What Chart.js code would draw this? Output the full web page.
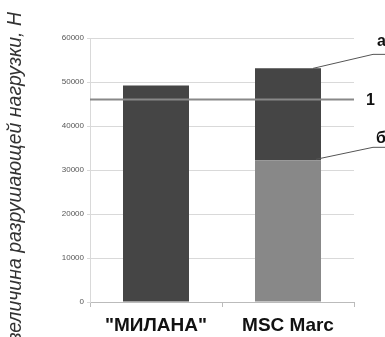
<!DOCTYPE html>
<html>
<head>
<meta charset="utf-8">
<script src="https://cdn.jsdelivr.net/npm/chart.js@4/dist/chart.umd.min.js"></script>
<style>
  html, body { margin: 0; padding: 0; background: #fff; }
  #wrap { width: 385px; height: 337px; position: relative; }
</style>
</head>
<body>
<div id="wrap"><canvas id="c"></canvas></div>
<script>
'use strict';

/* data */
const categories  = ['"МИЛАНА"', 'MSC Marc'];
const lowerPart   = [49200, 32200];   // б
const upperPart   = [0, 20900];       // а (on top of б)
const limitValue  = 46000;            // line 1
const yTicks      = [0, 10000, 20000, 30000, 40000, 50000, 60000];
const yTitle      = 'величина разрушающей нагрузки, Н';

const DARK  = '#454545';
const LIGHT = '#888888';
const GRID  = '#d9d9d9';
const FONT  = '"Liberation Sans", Arial, sans-serif';

/* line 1, leaders, labels а/б/1, y title */
const annotations = {
  id: 'annotations',
  afterDatasetsDraw(chart) {
    const { ctx, chartArea, scales } = chart;
    const y = scales.y;

    // line 1
    const ly = y.getPixelForValue(limitValue);
    ctx.save();
    ctx.strokeStyle = '#888';
    ctx.lineWidth = 2;
    ctx.beginPath();
    ctx.moveTo(chartArea.left, ly);
    ctx.lineTo(chartArea.right, ly);
    ctx.stroke();

    // leaders
    const bar = chart.getDatasetMeta(1).data[1];
    const topY = y.getPixelForValue(lowerPart[1] + upperPart[1]);
    const midY = y.getPixelForValue(lowerPart[1]);
    const bx   = bar.x + bar.width / 2 - 8;
    ctx.strokeStyle = '#555';
    ctx.lineWidth = 1;
    ctx.beginPath();
    ctx.moveTo(bx, topY);
    ctx.lineTo(chartArea.right + 19, topY - 14);
    ctx.lineTo(385, topY - 14);
    ctx.moveTo(bx + 3, midY - 1);
    ctx.lineTo(chartArea.right + 19, midY - 13);
    ctx.lineTo(385, midY - 13);
    ctx.stroke();

    ctx.fillStyle = '#111';
    ctx.font = 'bold 16px ' + FONT;
    ctx.textBaseline = 'middle';
    ctx.textAlign = 'left';
    ctx.fillText('а', chartArea.right + 23, topY - 27);
    ctx.fillText('1', chartArea.right + 12, ly + 1);
    ctx.fillText('б', chartArea.right + 22, midY - 22);

    // y title
    ctx.translate(16, 12);
    ctx.rotate(-Math.PI / 2);
    ctx.font = 'italic 19.5px ' + FONT;
    ctx.fillStyle = '#333';
    ctx.textAlign = 'right';
    ctx.fillText(yTitle, 0, 0);
    ctx.restore();
  }
};

new Chart(document.getElementById('c'), {
  type: 'bar',
  data: {
    labels: categories,
    datasets: [
      {
        data: lowerPart,
        backgroundColor: [DARK, LIGHT],
        categoryPercentage: 1,
        barPercentage: 0.5
      },
      {
        data: upperPart,
        backgroundColor: DARK,
        categoryPercentage: 1,
        barPercentage: 0.5
      }
    ]
  },
  options: {
    responsive: true,
    maintainAspectRatio: false,
    animation: false,
    layout: { padding: { top: 38, right: 31, left: 0, bottom: 0 } },
    plugins: { legend: { display: false }, tooltip: { enabled: false } },
    scales: {
      x: {
        stacked: true,
        afterFit: s => { s.height = 35; },
        grid: {
          offset: true,
          color: c => c.index === 2 ? GRID : 'rgba(0,0,0,0)',
          tickColor: '#bbb',
          tickLength: 5
        },
        border: { color: '#bbb' },
        ticks: { color: '#111', font: { family: FONT, size: 19, weight: 'bold' }, padding: 7 }
      },
      y: {
        stacked: true,
        min: 0,
        max: 60000,
        afterFit: s => { s.width = 90; },
        afterBuildTicks: s => { s.ticks = yTicks.map(v => ({ value: v })); },
        grid: { color: GRID, tickLength: 3 },
        border: { color: GRID },
        ticks: {
          color: '#555',
          font: { family: FONT, size: 8 },
          padding: 3,
          callback: v => String(v)
        }
      }
    }
  },
  plugins: [annotations]
});
</script>
</body>
</html>
